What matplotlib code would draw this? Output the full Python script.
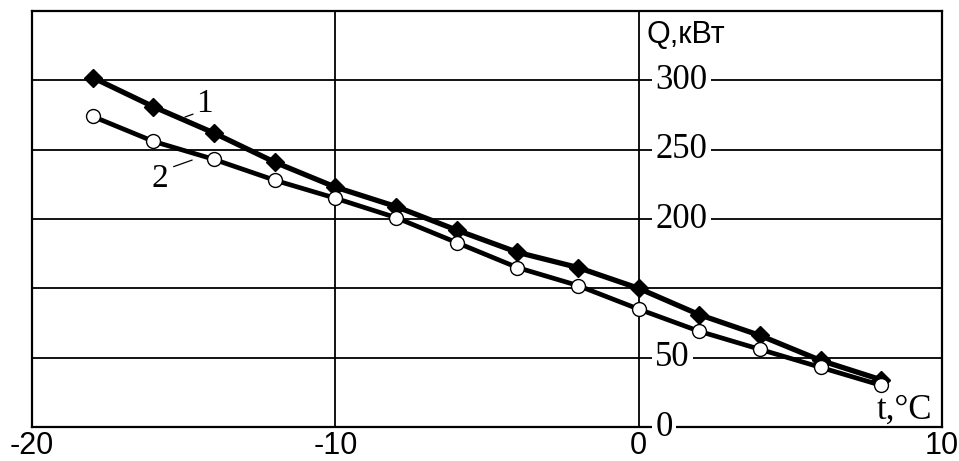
import matplotlib
matplotlib.use("Agg")
import matplotlib.pyplot as plt

plt.rcParams['axes.unicode_minus'] = False

# Data
t = [-18, -16, -14, -12, -10, -8, -6, -4, -2, 0, 2, 4, 6, 8]
q1 = [302, 281, 262, 241, 223, 209, 192, 176, 165, 150, 131, 116, 98, 84]
q2 = [274, 256, 243, 228, 215, 201, 183, 165, 152, 135, 119, 106, 93, 80]

x_ticks = [-20, -10, 0, 10]
x_tick_labels = ["-20", "-10", "0", "10"]
y_ticks = [50, 100, 150, 200, 250, 300]
y_tick_labels = ["0", "50", "", "200", "250", "300"]

fig = plt.figure(figsize=(9.59, 4.61), dpi=100)
ax = fig.add_axes([32/959, 34/461, 910/959, 416/461])
ax.set_xlim(-20, 10)
ax.set_ylim(50, 350)

# grid
ax.set_xticks(x_ticks)
ax.set_xticklabels(x_tick_labels, family="Liberation Sans", fontsize=22)
ax.set_yticks(y_ticks + [350])
ax.set_yticklabels([])
ax.tick_params(axis='both', length=0)
ax.tick_params(axis='x', pad=3)
ax.grid(True, color='black', linewidth=1.3)
for s in ax.spines.values():
    s.set_linewidth(1.6)
    s.set_color('black')

# curves
ax.plot(t, q1, color='black', linewidth=3.8, marker='D', markersize=9,
        markerfacecolor='black', markeredgecolor='black', zorder=4)
ax.plot(t, q2, color='black', linewidth=3.4, marker='o', markersize=10,
        markerfacecolor='white', markeredgecolor='black', markeredgewidth=1.0, zorder=5)

# y tick labels along the x=0 line
for v, lab in zip(y_ticks, y_tick_labels):
    if lab:
        ax.annotate(lab, xy=(0, v), xytext=(12, 0), textcoords='offset points',
                    ha='left', va='center', family="Liberation Serif", fontsize=25,
                    bbox=dict(boxstyle='square,pad=0.1', facecolor='white', edgecolor='none'),
                    zorder=3, annotation_clip=False)

# axis titles
ax.text(0.25, 327, "Q,кВт", family="Liberation Sans", fontsize=22,
        ha='left', va='baseline', zorder=6)
ax.text(7.85, 56, "t,°C", family="Liberation Serif", fontsize=25,
        ha='left', va='baseline', zorder=6)

# curve labels with leader lines
ax.annotate("1", xy=(-14.96, 273.5), xytext=(-14.6, 277), family="Liberation Serif",
            fontsize=24, ha='left', va='baseline',
            arrowprops=dict(arrowstyle='-', color='black', linewidth=0.9,
                            shrinkA=0, shrinkB=0, relpos=(0, 0.2)), zorder=6)
ax.annotate("2", xy=(-14.72, 242.5), xytext=(-16.05, 223), family="Liberation Serif",
            fontsize=24, ha='left', va='baseline',
            arrowprops=dict(arrowstyle='-', color='black', linewidth=0.9,
                            shrinkA=0, shrinkB=0, relpos=(1.3, 0.9)), zorder=6)

fig.savefig("out.png", dpi=100, facecolor='white')
